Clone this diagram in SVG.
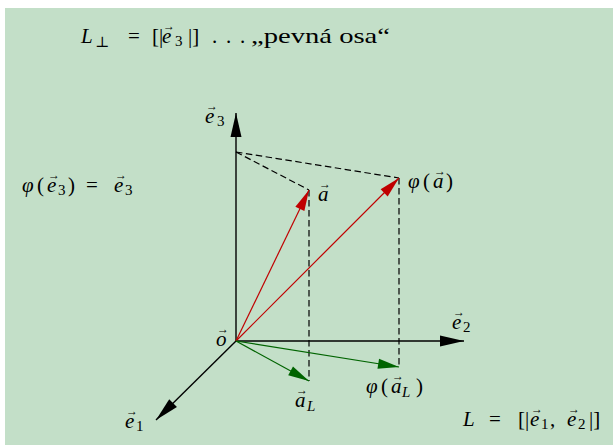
<svg xmlns="http://www.w3.org/2000/svg" width="613" height="445" viewBox="0 0 613 445">
<defs>
<style>
text{font-family:"Liberation Serif","DejaVu Serif",serif;font-size:21px;fill:#000}
.i{font-style:italic}
.s{font-size:15px}
.v{font-size:12px;font-style:normal}
.ax{stroke:#000;stroke-width:1.4;fill:none}
.red{stroke:#c00000;stroke-width:1.2;fill:none}
.grn{stroke:#006400;stroke-width:1.2;fill:none}
.dash{stroke:#000;stroke-width:1.2;fill:none;stroke-dasharray:6.5,3.5}
</style>
<marker id="mk" markerUnits="userSpaceOnUse" markerWidth="26" markerHeight="14" refX="0" refY="0" viewBox="-25 -7 26 14" orient="auto" overflow="visible"><path d="M0,0 L-24,-5.5 L-24,5.5 z" fill="#000"/></marker>
<marker id="mr" markerUnits="userSpaceOnUse" markerWidth="24" markerHeight="12" refX="0" refY="0" viewBox="-23 -6 24 12" orient="auto" overflow="visible"><path d="M0,0 L-21,-5 L-21,5 z" fill="#c00000"/></marker>
<marker id="mg" markerUnits="userSpaceOnUse" markerWidth="24" markerHeight="12" refX="0" refY="0" viewBox="-23 -6 24 12" orient="auto" overflow="visible"><path d="M0,0 L-21,-5 L-21,5 z" fill="#006400"/></marker>
</defs>
<rect x="5" y="8" width="608" height="437" fill="#c3dfc8"/>
<g id="connectors">
<line class="dash" x1="236" y1="152" x2="309" y2="190"/>
<line class="dash" x1="236" y1="152" x2="399" y2="178"/>
<line class="dash" x1="309" y1="190" x2="309" y2="381"/>
<line class="dash" x1="399" y1="178" x2="399" y2="367"/>
<line class="ax" x1="236" y1="341" x2="236" y2="113" marker-end="url(#mk)"/>
<line class="ax" x1="236" y1="341" x2="464" y2="341" marker-end="url(#mk)"/>
<line class="ax" x1="236" y1="341" x2="156" y2="420" marker-end="url(#mk)"/>
<line class="red" x1="236" y1="341" x2="309" y2="190" marker-end="url(#mr)"/>
<line class="red" x1="236" y1="341" x2="399" y2="178" marker-end="url(#mr)"/>
<line class="grn" x1="236" y1="341" x2="309" y2="381" marker-end="url(#mg)"/>
<line class="grn" x1="236" y1="341" x2="399" y2="367" marker-end="url(#mg)"/>
</g>
<g id="title">
<text><tspan class="i" x="81" y="43">L</tspan><tspan class="s" x="95" y="47">⊥</tspan><tspan x="128" y="43">=</tspan><tspan x="152" y="43">[|</tspan><tspan class="v" x="163" y="30">→</tspan><tspan class="i" x="162" y="43">e</tspan><tspan class="s" x="175" y="46">3</tspan><tspan x="188" y="43">|]</tspan><tspan x="212" y="43">.</tspan><tspan x="226" y="43">.</tspan><tspan x="240" y="43">.</tspan></text>
<text x="251" y="43" textLength="139" lengthAdjust="spacingAndGlyphs">„pevná osa“</text>
</g>
<g id="e3">
<text><tspan class="v" x="206" y="110">→</tspan><tspan class="i" x="205" y="123">e</tspan><tspan class="s" x="217" y="126">3</tspan></text>
</g>
<g id="a">
<text><tspan class="v" x="319" y="188">→</tspan><tspan class="i" x="318" y="201">a</tspan></text>
</g>
<g id="phia">
<text><tspan class="i" x="408" y="188">φ</tspan><tspan x="423" y="188">(</tspan><tspan class="v" x="434" y="175">→</tspan><tspan class="i" x="433" y="188">a</tspan><tspan x="446" y="188">)</tspan></text>
</g>
<g id="phie3">
<text><tspan class="i" x="22" y="192">φ</tspan><tspan x="37" y="192">(</tspan><tspan class="v" x="48" y="179">→</tspan><tspan class="i" x="47" y="192">e</tspan><tspan class="s" x="58" y="195">3</tspan><tspan x="68" y="192">)</tspan><tspan x="86" y="192">=</tspan><tspan class="v" x="115" y="179">→</tspan><tspan class="i" x="114" y="192">e</tspan><tspan class="s" x="125" y="195">3</tspan></text>
</g>
<g id="o">
<text><tspan class="v" x="217" y="333">→</tspan><tspan class="i" x="216" y="346">o</tspan></text>
</g>
<g id="e2">
<text><tspan class="v" x="453" y="316">→</tspan><tspan class="i" x="452" y="329">e</tspan><tspan class="s" x="463" y="332">2</tspan></text>
</g>
<g id="aL">
<text><tspan class="v" x="296" y="394">→</tspan><tspan class="i" x="295" y="407">a</tspan><tspan class="s i" x="307" y="411">L</tspan></text>
</g>
<g id="phiaL">
<text><tspan class="i" x="366" y="393">φ</tspan><tspan x="381" y="393">(</tspan><tspan class="v" x="392" y="380">→</tspan><tspan class="i" x="391" y="393">a</tspan><tspan class="s i" x="402" y="397">L</tspan><tspan x="416" y="393">)</tspan></text>
</g>
<g id="e1">
<text><tspan class="v" x="126" y="415">→</tspan><tspan class="i" x="125" y="428">e</tspan><tspan class="s" x="136" y="431">1</tspan></text>
</g>
<g id="L">
<text><tspan class="i" x="463" y="426">L</tspan><tspan x="489" y="426">=</tspan><tspan x="518" y="426">[|</tspan><tspan class="v" x="531" y="413">→</tspan><tspan class="i" x="530" y="426">e</tspan><tspan class="s" x="541" y="429">1</tspan><tspan x="550" y="426">,</tspan><tspan class="v" x="568" y="413">→</tspan><tspan class="i" x="567" y="426">e</tspan><tspan class="s" x="578" y="429">2</tspan><tspan x="589" y="426">|]</tspan></text>
</g>
</svg>
